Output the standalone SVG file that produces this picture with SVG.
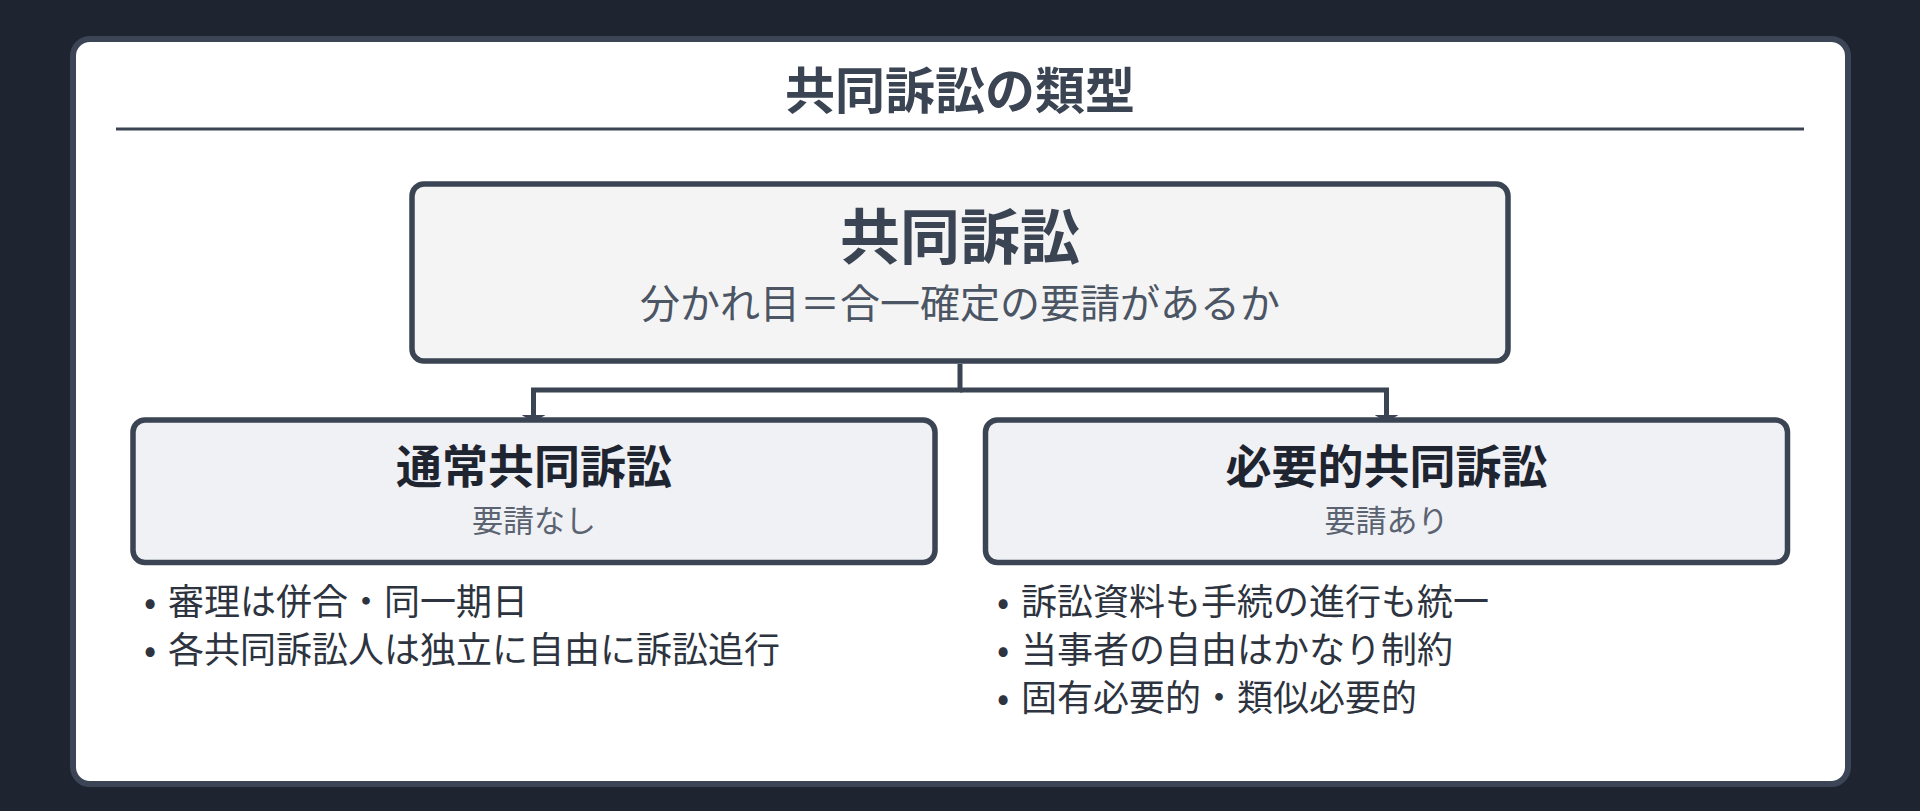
<svg xmlns="http://www.w3.org/2000/svg" width="1920" height="811" viewBox="0 0 1920 811">
  <defs>
    <style>
      .jp { font-family: "Noto Sans CJK JP", "Noto Sans", sans-serif; }
      .box { stroke: #3a4453; stroke-width: 5.5; }
      .conn { fill: none; stroke: #3a4453; stroke-width: 5; stroke-linejoin: miter; stroke-linecap: butt; }
      .bullet { font-size: 36px; fill: #2d3440; }
      .childTitle { font-size: 46px; font-weight: 700; fill: #1f2530; text-anchor: middle; }
      .childSub { font-size: 31px; fill: #5b6371; text-anchor: middle; }
    </style>
    <marker id="arrow" viewBox="0 0 7 24" refX="7" refY="12" markerWidth="7" markerHeight="24" markerUnits="userSpaceOnUse" orient="auto">
      <path d="M0,0 L7,12 L0,24 Z" fill="#3a4453"/>
    </marker>
  </defs>

  <rect x="0" y="0" width="1920" height="811" fill="#1e2430"/>

  <g id="card">
    <rect x="73" y="39" width="1775" height="745" rx="17" ry="17" fill="#ffffff" stroke="#3b4555" stroke-width="6"/>
    <text class="jp" x="960" y="109" font-size="50" font-weight="700" fill="#3a4453" text-anchor="middle">共同訴訟の類型</text>
    <line x1="116" y1="129" x2="1804" y2="129" stroke="#3a4453" stroke-width="3"/>
  </g>

  <g id="connectors">
    <path class="conn" d="M960,364 L960,390 L533.5,390 L533.5,422" marker-end="url(#arrow)"/>
    <path class="conn" d="M960,390 L1386.5,390 L1386.5,422" marker-end="url(#arrow)"/>
  </g>

  <g id="node-root">
    <rect class="box" x="412" y="184" width="1096" height="177" rx="12" ry="12" fill="#f4f4f5"/>
    <text class="jp" x="960" y="259" font-size="60" font-weight="700" fill="#3a4453" text-anchor="middle">共同訴訟</text>
    <text class="jp" x="960" y="318" font-size="40" fill="#4b5563" text-anchor="middle">分かれ目＝合一確定の要請があるか</text>
  </g>

  <g id="node-ordinary">
    <rect class="box" x="133" y="420" width="802" height="142.5" rx="12" ry="12" fill="#eff1f5"/>
    <text class="jp childTitle" x="534" y="483">通常共同訴訟</text>
    <text class="jp childSub" x="534" y="532">要請なし</text>
  </g>

  <g id="node-necessary">
    <rect class="box" x="985.5" y="420" width="802" height="142.5" rx="12" ry="12" fill="#eff1f5"/>
    <text class="jp childTitle" x="1386.5" y="483">必要的共同訴訟</text>
    <text class="jp childSub" x="1386.5" y="532">要請あり</text>
  </g>

  <g id="notes-ordinary" class="jp bullet">
    <text y="615"><tspan x="150" text-anchor="middle">•</tspan><tspan x="168">審理は併合・同一期日</tspan></text>
    <text y="663"><tspan x="150" text-anchor="middle">•</tspan><tspan x="168">各共同訴訟人は独立に自由に訴訟追行</tspan></text>
  </g>

  <g id="notes-necessary" class="jp bullet">
    <text y="615"><tspan x="1003" text-anchor="middle">•</tspan><tspan x="1021">訴訟資料も手続の進行も統一</tspan></text>
    <text y="663"><tspan x="1003" text-anchor="middle">•</tspan><tspan x="1021">当事者の自由はかなり制約</tspan></text>
    <text y="711"><tspan x="1003" text-anchor="middle">•</tspan><tspan x="1021">固有必要的・類似必要的</tspan></text>
  </g>
</svg>
